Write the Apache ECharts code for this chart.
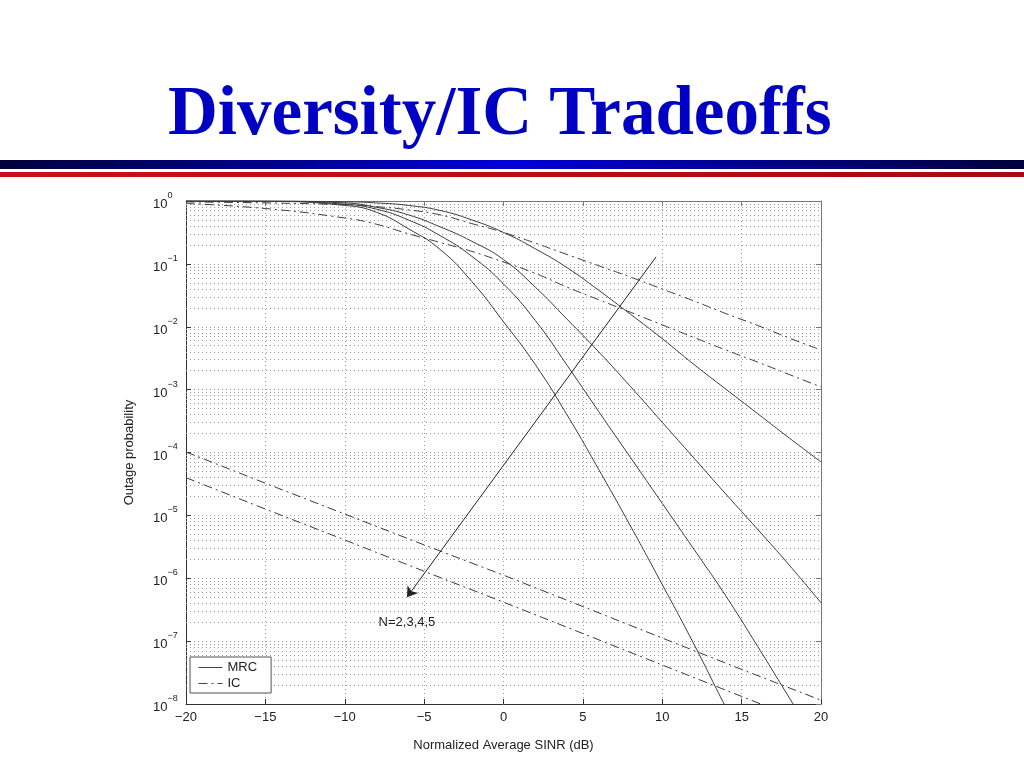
<!DOCTYPE html>
<html>
<head>
<meta charset="utf-8">
<script src="https://cdn.jsdelivr.net/npm/echarts@6/dist/echarts.min.js"></script>
<style>html,body{margin:0;padding:0;background:#fff}#c{width:1024px;height:768px}</style>
</head>
<body>
<div id="c"></div>
<script>
// x grid (dB) for the curved series
const snr = [-20,-15,-10,-8,-6,-4,-2,0,2,4,6,8,10,12,14,16,18,20];
// MRC, N = 2..5 (outage probability)
const mrcN2 = [0.999,0.995,0.973,0.933,0.851,0.708,0.501,0.316,0.174,0.0871,0.0380,0.0158,0.00646,0.00251,0.00102,4.17e-4,1.70e-4,7.08e-5];
const mrcN3 = [0.999,0.995,0.933,0.794,0.603,0.389,0.229,0.117,0.0427,0.0132,0.00398,0.00112,3.02e-4,8.13e-5,2.19e-5,6.03e-6,1.62e-6,4.07e-7];
const mrcN4 = [0.9995,0.993,0.891,0.741,0.501,0.282,0.132,0.0479,0.0126,0.00245,4.47e-4,8.32e-5,1.55e-5,2.88e-6,5.25e-7,8.32e-8,1.26e-8,1.91e-9];
const mrcN5 = [0.9999,0.989,0.851,0.661,0.363,0.170,0.0525,0.0120,0.00251,3.98e-4,5.37e-5,6.76e-6,7.94e-7,8.91e-8,8.91e-9,1.0e-9];
// IC, interference-limited cases
const icA = [0.966,0.933,0.871,0.813,0.724,0.603,0.437,0.316,0.214,0.141,0.0933,0.0617,0.0398,0.0257,0.0162,0.0105,0.00661,0.00427];
const icB = [0.912,0.759,0.537,0.427,0.302,0.219,0.158,0.107,0.0708,0.0427,0.0269,0.0170,0.0107,0.00676,0.00427,0.00275,0.00174,0.00110];
// IC, interference fully cancelled cases
const snrCoarse = [-20,-15,-10,-5,0,5,10,15,20];
const icC = [1.02e-4,3.24e-5,1.05e-5,3.39e-6,1.12e-6,3.55e-7,1.12e-7,3.55e-8,1.15e-8];
const icD = [3.98e-5,1.26e-5,4.07e-6,1.29e-6,4.17e-7,1.32e-7,4.17e-8,1.32e-8,4.17e-9];
// annotation arrow (dB, probability) and label
const arrowStart = [9.61, 0.129];
const arrowEnd = [-6.08, 5.0e-7];
const arrowLabelPos = [-6.08, 2.0e-7];
const arrowLabel = 'N=2,3,4,5';

function zip(xs, ys){ const out=[]; for(let i=0;i<ys.length;i++){ out.push([xs[i], ys[i]]); } return out; }

const FONT = '"Liberation Sans", Arial, sans-serif';
const curveColor = '#3a3a3a';
const gridColor = '#9a9a9a';
const gridDash = [1,3];
const dashDot = [9,4,2,4];

// minor log grid lines (2..9 x 10^k)
const minorLines = [];
for (let k=-8;k<0;k++){ for (let m=2;m<=9;m++){ const v=m*Math.pow(10,k); minorLines.push({coords:[[-20,v],[20,v]]}); } }

function mrcSeries(data){
  return {name:'MRC', type:'line', data:data, symbol:'none', showSymbol:false, smooth:0.5, clip:true,
    lineStyle:{color:curveColor, width:1, type:'solid'}, itemStyle:{color:curveColor}, z:3, silent:true};
}
function icSeries(data, sm){
  return {name:'IC', type:'line', data:data, symbol:'none', showSymbol:false, smooth:sm, clip:true,
    lineStyle:{color:curveColor, width:1, type:dashDot}, itemStyle:{color:curveColor}, z:3, silent:true};
}

const chart = echarts.init(document.getElementById('c'), null, {renderer:'canvas'});
const sup = e => (e<0 ? '\u2212' + (-e) : String(e));

chart.setOption({
  backgroundColor:'#fff',
  animation:false,
  graphic:[
    {type:'text', left:168, top:82, style:{text:'Diversity/IC Tradeoffs', font:'bold 69px "Liberation Serif", "Times New Roman", serif', fill:'#0000c4'}},
    {type:'rect', shape:{x:0,y:160,width:1024,height:9}, style:{fill:new echarts.graphic.LinearGradient(0,0,1,0,[{offset:0,color:'#00003a'},{offset:0.5,color:'#0000d6'},{offset:1,color:'#00003a'}])}},
    {type:'rect', shape:{x:0,y:172,width:1024,height:5}, style:{fill:new echarts.graphic.LinearGradient(0,0,1,0,[{offset:0,color:'#c8101c'},{offset:1,color:'#a60a14'}])}}
  ],
  grid:{left:186, right:203, top:201, bottom:64, containLabel:false},
  legend:{
    data:['MRC','IC'], orient:'vertical', left:190, top:657,
    backgroundColor:'#fff', borderColor:'#555', borderWidth:1, borderRadius:0,
    padding:[4,14,3,8], itemGap:3, itemWidth:24, itemHeight:14,
    itemStyle:{color:'rgba(0,0,0,0)', borderWidth:0, opacity:0},
    lineStyle:{width:1, color:'#444'},
    textStyle:{fontFamily:FONT, fontSize:13, color:'#222'},
    selectedMode:false
  },
  xAxis:[
    {type:'value', min:-20, max:20, interval:5, position:'bottom',
     name:'Normalized Average SINR (dB)', nameLocation:'middle', nameGap:35,
     nameTextStyle:{fontFamily:FONT, fontSize:13, color:'#222'},
     axisLine:{onZero:false, lineStyle:{color:'#333', width:1}},
     axisTick:{inside:true, length:5, lineStyle:{color:'#333'}},
     axisLabel:{margin:7, fontFamily:FONT, fontSize:13, color:'#222', formatter:v=>String(v).replace('-','\u2212')},
     splitLine:{show:true, lineStyle:{color:gridColor, type:gridDash, width:1}}},
    {type:'value', min:-20, max:20, interval:5, position:'top',
     axisLine:{show:true, onZero:false, lineStyle:{color:'#777', width:1}},
     axisTick:{show:true, inside:true, length:5, lineStyle:{color:'#777'}},
     axisLabel:{show:false}, splitLine:{show:false}}
  ],
  yAxis:[
    {type:'log', logBase:10, min:1e-8, max:1, splitNumber:8, position:'left',
     name:'Outage probability', nameLocation:'middle', nameGap:50,
     nameTextStyle:{fontFamily:FONT, fontSize:13, color:'#222'},
     axisLine:{show:true, onZero:false, lineStyle:{color:'#333', width:1}},
     axisTick:{show:true, inside:true, length:5, lineStyle:{color:'#333'}},
     axisLabel:{margin:33, align:'left', formatter:function(v){ const e=Math.round(Math.log10(v)); return '{b|10}{s|'+sup(e)+'}'; },
       rich:{b:{fontFamily:FONT, fontSize:13, color:'#222', lineHeight:20, verticalAlign:'bottom'},
             s:{fontFamily:FONT, fontSize:9, color:'#222', lineHeight:20, verticalAlign:'top'}}},
     splitLine:{show:true, lineStyle:{color:gridColor, type:gridDash, width:1}}},
    {type:'log', logBase:10, min:1e-8, max:1, splitNumber:8, position:'right',
     axisLine:{show:true, onZero:false, lineStyle:{color:'#777', width:1}},
     axisTick:{show:true, inside:true, length:5, lineStyle:{color:'#777'}},
     axisLabel:{show:false}, splitLine:{show:false}}
  ],
  series:[
    {name:'minorGrid', type:'lines', coordinateSystem:'cartesian2d', xAxisIndex:0, yAxisIndex:0, silent:true, z:1,
     lineStyle:{color:gridColor, type:gridDash, width:1, opacity:1}, data:minorLines},
    mrcSeries(zip(snr, mrcN2)),
    mrcSeries(zip(snr, mrcN3)),
    mrcSeries(zip(snr, mrcN4)),
    mrcSeries(zip(snr, mrcN5)),
    icSeries(zip(snr, icA), 0.5),
    icSeries(zip(snr, icB), 0.5),
    icSeries(zip(snrCoarse, icC), false),
    icSeries(zip(snrCoarse, icD), false),
    {name:'arrow', type:'lines', coordinateSystem:'cartesian2d', xAxisIndex:0, yAxisIndex:0, silent:true, z:4,
     symbol:['none','arrow'], symbolSize:10,
     lineStyle:{color:'#222', type:'solid', width:1, opacity:1},
     data:[{coords:[arrowStart, arrowEnd]}]}
  ]
});

// annotation text placed at its data coordinate through the chart's own axes
const p = chart.convertToPixel({gridIndex:0}, arrowLabelPos);
chart.setOption({graphic:[
  {type:'text', id:'annot', x:p[0], y:p[1], silent:true, z:10,
   style:{text:arrowLabel, font:'13px "Liberation Sans", Arial, sans-serif', fill:'#222', textAlign:'center', textVerticalAlign:'middle'}}
]});
</script>
</body>
</html>
